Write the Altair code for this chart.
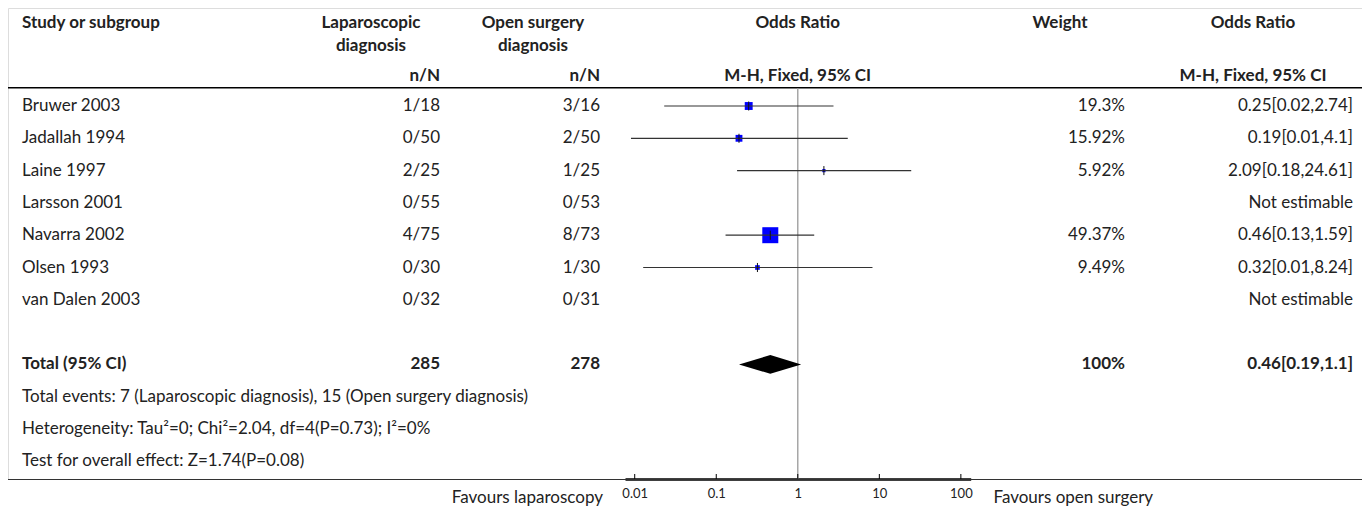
import altair as alt
import pandas as pd

# ---------------- data ----------------
studies = ["Bruwer 2003", "Jadallah 1994", "Laine 1997", "Larsson 2001",
           "Navarra 2002", "Olsen 1993", "van Dalen 2003"]
lap_nN = ["1/18", "0/50", "2/25", "0/55", "4/75", "0/30", "0/32"]
open_nN = ["3/16", "2/50", "1/25", "0/53", "8/73", "1/30", "0/31"]
weight_txt = ["19.3%", "15.92%", "5.92%", "", "49.37%", "9.49%", ""]
weight_val = [19.3, 15.92, 5.92, None, 49.37, 9.49, None]
or_txt = ["0.25[0.02,2.74]", "0.19[0.01,4.1]", "2.09[0.18,24.61]", "Not estimable",
          "0.46[0.13,1.59]", "0.32[0.01,8.24]", "Not estimable"]
or_est = [0.25, 0.19, 2.09, None, 0.46, 0.32, None]
or_lo = [0.023, 0.009, 0.18, None, 0.13, 0.0127, None]
or_hi = [2.74, 4.1, 24.61, None, 1.59, 8.24, None]

total_label = "Total (95% CI)"
total_lap = "285"
total_open = "278"
total_weight = "100%"
total_or_txt = "0.46[0.19,1.1]"
total_est, total_lo, total_hi = 0.46, 0.19, 1.1

footer_lines = [
    "Total events: 7 (Laparoscopic diagnosis), 15 (Open surgery diagnosis)",
    "Heterogeneity: Tau\u00b2=0; Chi\u00b2=2.04, df=4(P=0.73); I\u00b2=0%",
    "Test for overall effect: Z=1.74(P=0.08)",
]
tick_values = [0.01, 0.1, 1, 10, 100]

# row indices
study_rows = list(range(len(studies)))
total_row = 8
footer_rows = [9, 10, 11]

FONT = "Lato"
FS = 17
W, H = 1354, 471

# ---------------- frames ----------------
study_df = pd.DataFrame({
    "row": study_rows, "study": studies, "lap": lap_nN, "open": open_nN,
    "wtxt": weight_txt, "ortxt": or_txt,
})
forest_df = pd.DataFrame({
    "row": study_rows, "est": or_est, "lo": or_lo, "hi": or_hi, "w": weight_val,
}).dropna()
total_df = pd.DataFrame({
    "row": [total_row], "label": [total_label], "lap": [total_lap],
    "open": [total_open], "wtxt": [total_weight], "ortxt": [total_or_txt],
})
diamond_df = pd.DataFrame({"x": [total_lo, total_est, total_hi], "shape": [0, 1, 0]})
footer_df = pd.DataFrame({"row": footer_rows, "txt": footer_lines})
ticks_df = pd.DataFrame({"t": tick_values})
one_df = pd.DataFrame({"v": [1]})

xscale = alt.Scale(type="log", domain=[0.0076, 132], range=[617, 962.7], nice=False)
yscale = alt.Scale(domain=[0, 11], range=[98, 453.3], nice=False, zero=False)
xaxis = alt.Axis(values=tick_values, labelExpr="toString(datum.value)", title=None,
                 ticks=False, grid=False, domainColor="#000", domainWidth=2.5,
                 labelFont=FONT, labelFontSize=13, labelColor="#222", labelPadding=8)


def X(field):
    return alt.X(field, type="quantitative", scale=xscale, axis=xaxis)


def Y(field):
    return alt.Y(field, type="quantitative", scale=yscale, axis=None)


def col_text(df, field, px, align, bold=False):
    return alt.Chart(df).mark_text(
        align=align, baseline="middle", font=FONT, fontSize=FS, color="#222",
        fontWeight="bold" if bold else "normal",
    ).encode(x=alt.value(px), y=Y("row"), text=alt.Text(field, type="nominal"))


def header(txt, px, py, align="center"):
    return alt.Chart(one_df).mark_text(
        text=txt, align=align, baseline="middle", font=FONT, fontSize=FS,
        fontWeight="bold", color="#222",
    ).encode(x=alt.value(px), y=alt.value(py))


layers = []

# headers
layers += [
    header("Study or subgroup", 14, 15, "left"),
    header("Laparoscopic", 363, 15),
    header("diagnosis", 363, 38),
    header("Open surgery", 525, 15),
    header("diagnosis", 525, 38),
    header("Odds Ratio", 789.7, 15),
    header("Weight", 1052, 15),
    header("Odds Ratio", 1245, 15),
    header("n/N", 432, 68, "right"),
    header("n/N", 592, 68, "right"),
    header("M-H, Fixed, 95% CI", 789.7, 68),
    header("M-H, Fixed, 95% CI", 1245, 68),
]

# lines
layers.append(alt.Chart(one_df).mark_rule(color="#000", strokeWidth=1.4).encode(
    x=alt.value(0), x2=alt.value(W), y=alt.value(79.7)))
layers.append(alt.Chart(one_df).mark_rule(color="#333", strokeWidth=1).encode(
    x=alt.value(0), x2=alt.value(W), y=alt.value(471.5)))
layers.append(alt.Chart(one_df).mark_rule(color="#999", strokeWidth=1.3).encode(
    x=X("v"), y=alt.value(80), y2=alt.value(471)))
layers.append(alt.Chart(ticks_df).mark_rule(color="#000", strokeWidth=1).encode(
    x=X("t"), y=alt.value(466), y2=alt.value(471)))

# study text columns
layers += [
    col_text(study_df, "study", 14, "left"),
    col_text(study_df, "lap", 432, "right"),
    col_text(study_df, "open", 592, "right"),
    col_text(study_df, "wtxt", 1117, "right"),
    col_text(study_df, "ortxt", 1345, "right"),
    col_text(total_df, "label", 14, "left", True),
    col_text(total_df, "lap", 432, "right", True),
    col_text(total_df, "open", 592, "right", True),
    col_text(total_df, "wtxt", 1117, "right", True),
    col_text(total_df, "ortxt", 1345, "right", True),
    col_text(footer_df, "txt", 14, "left"),
]

# forest
squares = alt.Chart(forest_df).mark_point(shape="square", filled=True, color="#0000ff",
                                          opacity=1, strokeWidth=0).encode(
    x=X("est"), y=Y("row"),
    size=alt.Size("w:Q", scale=alt.Scale(type="pow", exponent=1.5, domain=[0, 49.37],
                                         range=[0, 256]), legend=None))
ci = alt.Chart(forest_df).mark_rule(color="#333", strokeWidth=1.2).encode(
    x=X("lo"), x2="hi:Q", y=Y("row"))
cross = alt.Chart(forest_df).transform_calculate(
    yt="datum.row - 0.14", yb="datum.row + 0.14").mark_rule(
    color="#111", strokeWidth=1).encode(x=X("est"), y=Y("yt"), y2="yb:Q")
diamond = alt.Chart(diamond_df).transform_calculate(
    ya=f"{total_row} - 0.29 * datum.shape", yb=f"{total_row} + 0.29 * datum.shape"
).mark_area(color="#000", opacity=1).encode(x=X("x"), y=Y("ya"), y2="yb:Q")
layers += [squares, ci, cross, diamond]

# favours labels
layers.append(alt.Chart(one_df).mark_text(
    text="Favours laparoscopy", align="right", baseline="middle", font=FONT,
    fontSize=FS, color="#222").encode(x=alt.value(595), y=alt.value(490)))
layers.append(alt.Chart(one_df).mark_text(
    text="Favours open surgery", align="left", baseline="middle", font=FONT,
    fontSize=FS, color="#222").encode(x=alt.value(985.5), y=alt.value(490)))

chart = alt.layer(*layers).properties(
    width=W, height=H, autosize="none",
    padding={"left": 0, "top": 0, "right": 0, "bottom": 31},
).configure_view(stroke=None).configure(background="white")

chart.save("out.html", embed_options={"renderer": "svg", "actions": False})
